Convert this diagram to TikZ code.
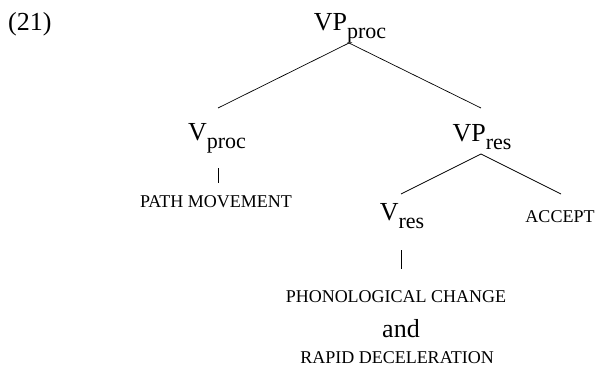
\documentclass[tikz,border=0pt]{standalone}
\usepackage{fontspec}
\setmainfont{Liberation Serif}
\newcommand\mysub[1]{\raisebox{-8pt}{\fontsize{22}{22}\selectfont #1}}
\tikzset{
  lab/.style={font=\fontsize{26}{30}\selectfont, inner sep=0pt, anchor=base},
  sclab/.style={font=\fontsize{18}{21}\selectfont, inner sep=0pt, anchor=base},
  branch/.style={line width=0.7pt, black}
}
\begin{document}
\begin{tikzpicture}[x=1pt, y=-1pt]
\useasboundingbox (0,0) rectangle (595,367);
% labels
\node[lab, anchor=base west] (ex) at (8,30) {(21)};
\node[lab] (vpproc) at (350,30) {VP\mysub{proc}};
\node[lab] (vproc) at (217,140) {V\mysub{proc}};
\node[lab] (vpres) at (482,141) {VP\mysub{res}};
\node[sclab] (path) at (216,207) {PATH MOVEMENT};
\node[lab] (vres) at (402,220) {V\mysub{res}};
\node[sclab] (accept) at (560,222) {ACCEPT};
\node[sclab] (phon) at (396,302) {PHONOLOGICAL CHANGE};
\node[lab] (and) at (401,337) {and};
\node[sclab] (rapid) at (397,363) {RAPID DECELERATION};
% branches
\draw[branch] ([xshift=-1pt,yshift=-13pt]vpproc.base) -- ([xshift=1pt,yshift=32pt]vproc.base);
\draw[branch] ([xshift=-1pt,yshift=-13pt]vpproc.base) -- ([xshift=-1pt,yshift=33pt]vpres.base);
\draw[branch] ([xshift=-1pt,yshift=-13pt]vpres.base) -- ([xshift=-1pt,yshift=26pt]vres.base);
\draw[branch] ([xshift=-1pt,yshift=-13pt]vpres.base) -- ([xshift=1pt,yshift=28pt]accept.base);
\draw[branch] ([xshift=1pt,yshift=-28pt]vproc.base) -- ([xshift=2pt,yshift=24pt]path.base);
\draw[branch] ([xshift=-1pt,yshift=-30pt]vres.base) -- ([xshift=5pt,yshift=33pt]phon.base);
\end{tikzpicture}
\end{document}
